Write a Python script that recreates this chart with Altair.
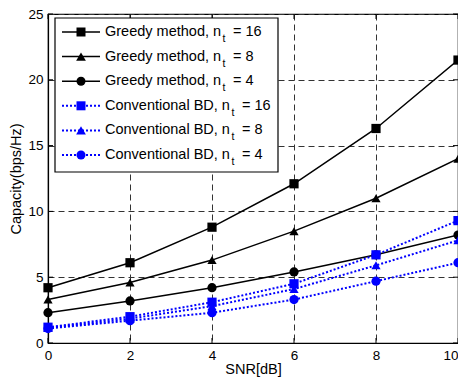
import altair as alt
import pandas as pd

snr = [0, 2, 4, 6, 8, 10]
cap_ticks = [0, 5, 10, 15, 20, 25]
series = [
    "Greedy method, n_t = 16",
    "Greedy method, n_t = 8",
    "Greedy method, n_t = 4",
    "Conventional BD, n_t = 16",
    "Conventional BD, n_t = 8",
    "Conventional BD, n_t = 4",
]
label_main = ["Greedy method, n"] * 3 + ["Conventional BD, n"] * 3
label_tail = ["= 16", "= 8", "= 4", "= 16", "= 8", "= 4"]
greedy_16 = [4.2, 6.1, 8.8, 12.1, 16.3, 21.5]
greedy_8 = [3.3, 4.6, 6.3, 8.5, 11.0, 14.0]
greedy_4 = [2.3, 3.2, 4.2, 5.4, 6.7, 8.2]
conv_16 = [1.2, 2.0, 3.1, 4.5, 6.7, 9.3]
conv_8 = [1.15, 1.85, 2.8, 4.1, 5.9, 7.8]
conv_4 = [1.1, 1.7, 2.3, 3.3, 4.7, 6.1]
values = [greedy_16, greedy_8, greedy_4, conv_16, conv_8, conv_4]

colors = ["#000000"] * 3 + ["#0000FF"] * 3
shapes = ["square", "triangle-up", "circle"] * 2
dashes = [[1, 0]] * 3 + [[2, 2]] * 3
sizes = [81, 95, 81, 81, 95, 81]

FONT = "Liberation Sans"

rows = []
for s, vals in zip(series, values):
    for x, y in zip(snr, vals):
        rows.append({"series": s, "snr": x, "cap": y})
df = pd.DataFrame(rows)

W, H = 410, 329

x_scale = alt.Scale(domain=[0, 10], nice=False)
y_scale = alt.Scale(domain=[0, 25], nice=False)
x_enc = alt.X("snr:Q", title="SNR[dB]", scale=x_scale,
              axis=alt.Axis(values=snr, format="d",
                            labelAlign={"condition": {"test": "datum.value == 10", "value": "right"},
                                        "value": "center"}))
y_enc = alt.Y("cap:Q", title="Capacity(bps/Hz)", scale=y_scale,
              axis=alt.Axis(values=cap_ticks))

color = alt.Color("series:N", scale=alt.Scale(domain=series, range=colors), legend=None)
shape = alt.Shape("series:N", scale=alt.Scale(domain=series, range=shapes), legend=None)

base = alt.Chart(df)
greedy_lines = base.transform_filter(alt.FieldOneOfPredicate(field="series", oneOf=series[:3])).mark_line(strokeWidth=1.5).encode(
    x=x_enc, y=y_enc, color=color, detail="series:N")
conv_lines = base.transform_filter(alt.FieldOneOfPredicate(field="series", oneOf=series[3:])).mark_line(strokeWidth=2, strokeDash=[2, 2]).encode(
    x=x_enc, y=y_enc, color=color, detail="series:N")
points = base.mark_point(filled=True, opacity=1, size=85).encode(
    x=x_enc, y=y_enc, color=color, shape=shape)

# inward ticks on all four sides
xt = pd.DataFrame({"snr": snr})
yt = pd.DataFrame({"cap": cap_ticks})
tick_layers = [
    alt.Chart(xt).mark_rule(color="black", strokeWidth=1).encode(
        x=alt.X("snr:Q", scale=x_scale), y=alt.value(H), y2=alt.value(H - 5)),
    alt.Chart(xt).mark_rule(color="black", strokeWidth=1).encode(
        x=alt.X("snr:Q", scale=x_scale), y=alt.value(0), y2=alt.value(5)),
    alt.Chart(yt).mark_rule(color="black", strokeWidth=1).encode(
        y=alt.Y("cap:Q", scale=y_scale), x=alt.value(0), x2=alt.value(5)),
    alt.Chart(yt).mark_rule(color="black", strokeWidth=1).encode(
        y=alt.Y("cap:Q", scale=y_scale), x=alt.value(W), x2=alt.value(W - 5)),
]

# legend (drawn manually, in pixel coordinates of the plot area)
one = pd.DataFrame({"a": [0]})
layers = [greedy_lines, conv_lines, points] + tick_layers
layers.append(alt.Chart(one).mark_rect(fill="white", stroke="black", strokeWidth=1.2).encode(
    x=alt.value(7), x2=alt.value(230), y=alt.value(4), y2=alt.value(158)))

arial = {"G": 778, "r": 333, "e": 556, "d": 556, "y": 500, " ": 278, "m": 833, "t": 278,
         "h": 556, "o": 556, ",": 278, "n": 556, "C": 722, "v": 500, "i": 222, "a": 556,
         "l": 222, "B": 667, "D": 722}
FS = 14.5
row_y0, row_dy = 18, 24.6
for i in range(6):
    yy = row_y0 + i * row_dy
    layers.append(alt.Chart(one).mark_rule(color=colors[i], strokeWidth=1.5 if i < 3 else 2,
                                           strokeDash=dashes[i]).encode(
        x=alt.value(14), x2=alt.value(52), y=alt.value(yy)))
    layers.append(alt.Chart(one).mark_point(filled=True, opacity=1, color=colors[i],
                                            shape=shapes[i], size=sizes[i]).encode(
        x=alt.value(33), y=alt.value(yy)))
    tx = 57
    layers.append(alt.Chart(one).mark_text(text=label_main[i], align="left", baseline="middle",
                                           font=FONT, fontSize=FS, color="black").encode(
        x=alt.value(tx), y=alt.value(yy)))
    w = sum(arial[c] for c in label_main[i]) / 1000 * FS
    layers.append(alt.Chart(one).mark_text(text="t", align="left", baseline="middle",
                                           font=FONT, fontSize=10.5, color="black").encode(
        x=alt.value(tx + w + 1.5), y=alt.value(yy + 7)))
    layers.append(alt.Chart(one).mark_text(text=label_tail[i], align="left", baseline="middle",
                                           font=FONT, fontSize=FS, color="black").encode(
        x=alt.value(tx + w + 12), y=alt.value(yy)))

chart = alt.layer(*layers).properties(
    width=W, height=H,
    autosize=alt.AutoSizeParams(type="none"),
    padding={"left": 40, "top": 6, "right": 0, "bottom": 35},
).configure_view(stroke="black", strokeWidth=1.2).configure_axis(
    labelFont=FONT, titleFont=FONT, labelFontSize=13.5,
    labelColor="black", titleColor="black", titleFontWeight="normal",
    grid=True, gridColor="#333333", gridDash=[6, 4], gridWidth=1, gridOpacity=1,
    ticks=False, domainColor="black", domainWidth=1.2,
).configure_axisX(labelPadding=5, titlePadding=1, titleFontSize=14.5).configure_axisY(
    labelPadding=5, titlePadding=4, titleFontSize=14.5)

chart.save("out.html", embed_options={"renderer": "svg", "actions": False})
